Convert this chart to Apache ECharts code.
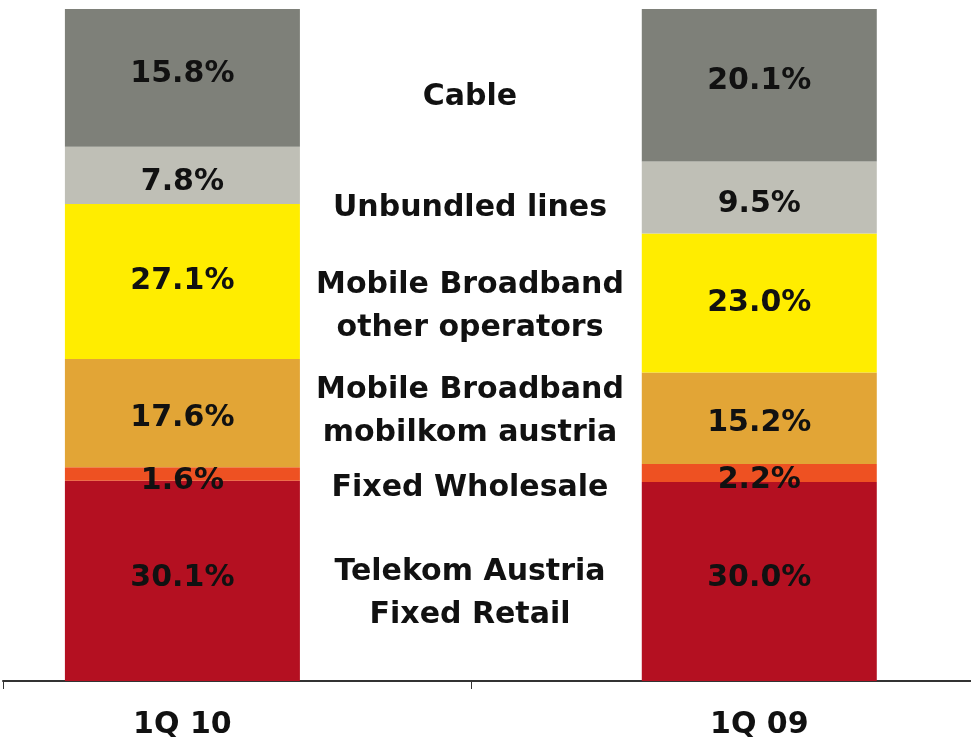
<!DOCTYPE html>
<html>
<head>
<meta charset="utf-8">
<script src="https://cdn.jsdelivr.net/npm/echarts@6/dist/echarts.min.js"></script>
<style>
  html, body { margin: 0; padding: 0; background: #fff; }
  #chart { width: 971px; height: 744px; }
</style>
</head>
<body>
<div id="chart"></div>
<script>
// quarters on the x axis
var quarters = ['1Q 10', '1Q 09'];

// segment names, bottom to top
var segments = ['Telekom Austria\nFixed Retail', 'Fixed Wholesale', 'Mobile Broadband\nmobilkom austria',
  'Mobile Broadband\nother operators', 'Unbundled lines', 'Cable'];

// bar heights as drawn (share of bar, %), bottom to top
var retail    = [29.8, 29.6];
var wholesale = [2.0, 2.7];
var mobilkom  = [16.1, 13.6];
var mbOther   = [23.1, 20.7];
var unbundled = [8.5, 10.7];
var cable     = [20.6, 22.7];

// printed labels
var retailLbl    = ['30.1%', '30.0%'];
var wholesaleLbl = ['1.6%', '2.2%'];
var mobilkomLbl  = ['17.6%', '15.2%'];
var mbOtherLbl   = ['27.1%', '23.0%'];
var unbundledLbl = ['7.8%', '9.5%'];
var cableLbl     = ['15.8%', '20.1%'];

var colors = ['#b41021', '#ee5122', '#e2a536', '#ffed00', '#bfbfb6', '#7e8079'];
var values = [retail, wholesale, mobilkom, mbOther, unbundled, cable];
var labels = [retailLbl, wholesaleLbl, mobilkomLbl, mbOtherLbl, unbundledLbl, cableLbl];
var labelNudge = [-3, 7, 5, 0, 7, -4];

// middle legend text, y centre of each block
var midY = [594, 488, 412, 307, 208, 97];

var font = 'DejaVu Sans';

// x axis: quarter i sits at value i; range chosen so bars land where they do in the slide
var xMin = -0.311, xMax = 1.367;

var chart = echarts.init(document.getElementById('chart'));

var series = values.map(function (v, i) {
  return {
    name: segments[i],
    type: 'bar',
    stack: 'total',
    barWidth: 235,
    // value first so the stack runs on y
    encode: { x: 1, y: 0 },
    itemStyle: { color: colors[i] },
    label: {
      show: true,
      position: 'inside',
      offset: [0, labelNudge[i]],
      color: '#111',
      fontFamily: font,
      fontWeight: 'bold',
      fontSize: 30,
      formatter: function (p) { return labels[i][p.dataIndex]; }
    },
    data: v.map(function (y, k) { return [y, k]; })
  };
});

var graphics = segments.map(function (s, i) {
  return {
    type: 'text',
    x: 470,
    y: midY[i],
    style: {
      text: s,
      fill: '#111',
      font: 'bold 30px "' + font + '"',
      textAlign: 'center',
      textVerticalAlign: 'middle',
      lineHeight: 43
    }
  };
});

var option = {
  animation: false,
  grid: { left: 3, right: 0, top: 9, bottom: 63, containLabel: false },
  xAxis: {
    type: 'value',
    min: xMin,
    max: xMax,
    splitLine: { show: false },
    axisLine: { show: true, lineStyle: { color: '#333', width: 2 } },
    axisTick: {
      show: true,
      length: 8,
      customValues: [xMin, 0.5],
      lineStyle: { color: '#333', width: 1 }
    },
    axisLabel: {
      margin: 29,
      customValues: [0, 1],
      color: '#111',
      fontFamily: font,
      fontWeight: 'bold',
      fontSize: 30,
      formatter: function (v) { return quarters[Math.round(v)]; }
    }
  },
  yAxis: {
    type: 'value',
    min: 0,
    max: 100,
    show: false
  },
  series: series,
  graphic: graphics
};

chart.setOption(option);
</script>
</body>
</html>
